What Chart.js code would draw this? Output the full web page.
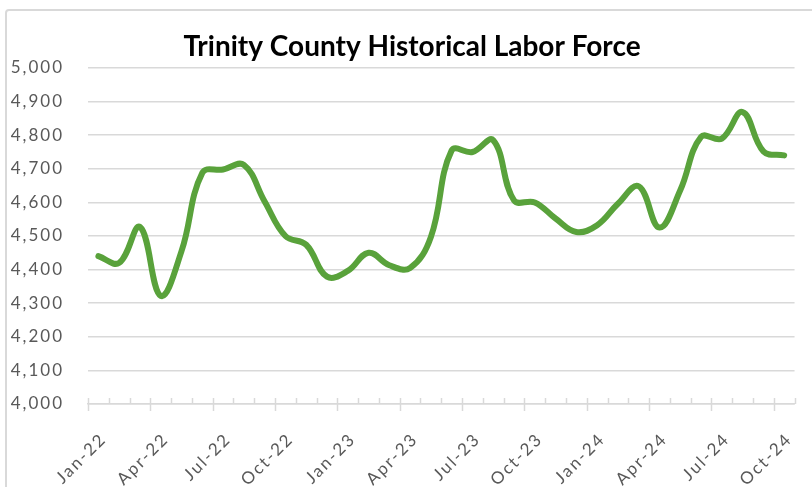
<!DOCTYPE html>
<html>
<head>
<meta charset="utf-8">
<script src="https://cdn.jsdelivr.net/npm/chart.js@4.4.1/dist/chart.umd.min.js"></script>
<style>
  html, body { margin: 0; padding: 0; background: #ffffff; overflow: hidden; width: 812px; height: 487px; }
  #wrap { position: absolute; left: 0; top: 0; width: 824px; height: 487px; }
  #frame { position: absolute; left: 5px; top: 9px; width: 900px; height: 600px; border: 2px solid #d9d9d9; border-radius: 4px; box-sizing: border-box; pointer-events: none; }
</style>
</head>
<body>
<div id="wrap">
  <canvas id="c" width="824" height="487"></canvas>
  <div id="frame"></div>
</div>
<script>
const chartTitle = "Trinity County Historical Labor Force";
const months = [
  "Jan-22","Feb-22","Mar-22","Apr-22","May-22","Jun-22","Jul-22","Aug-22","Sep-22","Oct-22","Nov-22","Dec-22",
  "Jan-23","Feb-23","Mar-23","Apr-23","May-23","Jun-23","Jul-23","Aug-23","Sep-23","Oct-23","Nov-23","Dec-23",
  "Jan-24","Feb-24","Mar-24","Apr-24","May-24","Jun-24","Jul-24","Aug-24","Sep-24","Oct-24"
];
const laborForce = [
  4440, 4420, 4527, 4322, 4455, 4688, 4698, 4712, 4603, 4500, 4474, 4379,
  4396, 4450, 4413, 4405, 4497, 4755, 4750, 4785, 4606, 4600, 4552, 4512,
  4532, 4596, 4648, 4525, 4636, 4795, 4790, 4869, 4752, 4740
];
const yMin = 4000, yMax = 5000, yStep = 100;

const labelSpacing = {
  id: 'labelSpacing',
  afterUpdate(chart) {
    Object.values(chart.scales).forEach(s => {
      if (s._lsPatched) return;
      const orig = s.drawLabels.bind(s);
      s.drawLabels = function (area) {
        const c = this.ctx;
        const prev = c.letterSpacing;
        c.letterSpacing = '2px';
        orig(area);
        c.letterSpacing = prev || '0px';
      };
      s._lsPatched = true;
    });
  }
};

const axisTicks = {
  id: 'axisTicks',
  afterDraw(chart) {
    const xs = chart.scales.x;
    const ctx = chart.ctx;
    const y0 = chart.chartArea.bottom;
    ctx.save();
    ctx.strokeStyle = '#d9d9d9';
    ctx.lineWidth = 1.5;
    for (let k = 0; k <= months.length; k++) {
      const x = Math.round(xs.getPixelForValue(k - 0.5)) + 0.5;
      ctx.beginPath();
      ctx.moveTo(x, y0 - 6);
      ctx.lineTo(x, k % 3 === 0 ? y0 + 7 : y0);
      ctx.stroke();
    }
    ctx.restore();
  }
};

new Chart(document.getElementById('c'), {
  type: 'line',
  data: {
    labels: months,
    datasets: [{
      data: laborForce,
      borderColor: '#59a23b',
      borderWidth: 6,
      tension: 0.4,
      pointRadius: 0,
      borderCapStyle: 'round',
      borderJoinStyle: 'round',
      fill: false
    }]
  },
  options: {
    responsive: false,
    animation: false,
    devicePixelRatio: 1,
    layout: { padding: { left: 0, right: 0, top: 0, bottom: 0 } },
    plugins: {
      legend: { display: false },
      tooltip: { enabled: false },
      title: {
        display: true,
        text: chartTitle,
        color: '#000000',
        font: { family: 'Lato', size: 28, weight: 'bold' },
        padding: { top: 30, bottom: 4.4 }
      }
    },
    scales: {
      x: {
        offset: true,
        grid: { display: false, drawTicks: false },
        border: { display: true, color: '#d9d9d9', width: 1.5 },
        ticks: {
          autoSkip: false,
          maxRotation: 45,
          minRotation: 45,
          padding: 25,
          labelOffset: 5,
          color: '#595959',
          font: { family: 'Lato', size: 17 },
          callback: function (v, i) { return i % 3 === 0 ? months[i] : ''; }
        },
        afterFit(scale) { scale.height = 83; }
      },
      y: {
        min: yMin,
        max: yMax,
        border: { display: false },
        grid: { color: '#d9d9d9', lineWidth: 1.5, drawTicks: false },
        ticks: {
          stepSize: yStep,
          padding: 24,
          color: '#595959',
          font: { family: 'Lato', size: 17 },
          callback: v => v.toLocaleString('en-US')
        },
        afterFit(scale) { scale.width = 88; }
      },
      spacer: {
        axis: 'y',
        position: 'right',
        min: yMin,
        max: yMax,
        border: { display: false },
        grid: { display: false, drawTicks: false },
        ticks: { display: false },
        afterFit(scale) { scale.width = 28; }
      }
    }
  },
  plugins: [labelSpacing, axisTicks]
});
</script>
</body>
</html>
